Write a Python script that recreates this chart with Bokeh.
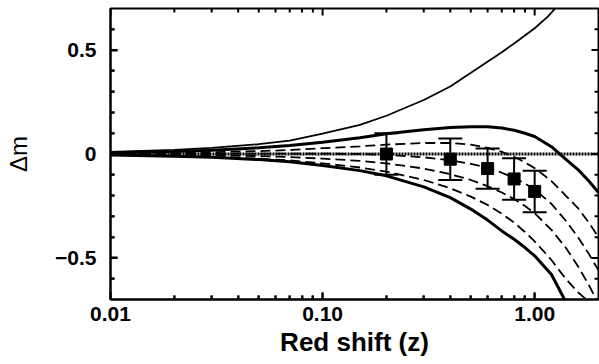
import math
from bokeh.plotting import figure
from bokeh.models import (FixedTicker, Whisker, TeeHead, ColumnDataSource, Range1d)
from bokeh.embed import file_html
from bokeh.resources import INLINE

# ---- data ----
z_a = [0.01, 0.02, 0.03, 0.05, 0.07, 0.1, 0.15, 0.2, 0.3, 0.4, 0.55, 0.7, 0.8, 1.0, 1.15, 1.25, 1.3]
dm_a = [0.01, 0.02, 0.029, 0.047, 0.064, 0.098, 0.14, 0.184, 0.26, 0.325, 0.418, 0.49, 0.532, 0.605, 0.66, 0.70, 0.72]

z_grid = [0.01, 0.02, 0.03, 0.05, 0.07, 0.1, 0.15, 0.2, 0.3, 0.4, 0.5, 0.6, 0.7, 0.8, 0.9, 1.0, 1.2, 1.4, 1.6, 1.8, 2.0]
dm_b = [0.006, 0.012, 0.018, 0.03, 0.041, 0.056, 0.078, 0.097, 0.117, 0.127, 0.131, 0.131, 0.125, 0.114, 0.1, 0.084, 0.035, -0.025, -0.075, -0.13, -0.185]
dm_d1 = [0.003, 0.006, 0.009, 0.014, 0.019, 0.028, 0.037, 0.045, 0.053, 0.053, 0.045, 0.03, 0.01, -0.013, -0.04, -0.068, -0.13, -0.2, -0.26, -0.33, -0.40]
dm_d2 = [0.0, 0.001, 0.001, 0.002, 0.002, 0.002, 0.0, -0.004, -0.016, -0.03, -0.047, -0.067, -0.09, -0.115, -0.142, -0.17, -0.24, -0.32, -0.40, -0.48, -0.56]
dm_d3 = [-0.002, -0.004, -0.006, -0.01, -0.015, -0.022, -0.033, -0.045, -0.07, -0.097, -0.125, -0.155, -0.185, -0.217, -0.25, -0.285, -0.365, -0.45, -0.54, -0.63, -0.72]
z_d4 = [0.01, 0.02, 0.03, 0.05, 0.07, 0.1, 0.15, 0.2, 0.3, 0.4, 0.5, 0.6, 0.7, 0.8, 0.9, 1.0, 1.2, 1.4, 1.6, 1.75, 1.8]
dm_d4 = [-0.004, -0.009, -0.013, -0.022, -0.031, -0.045, -0.065, -0.085, -0.125, -0.165, -0.205, -0.245, -0.287, -0.33, -0.375, -0.42, -0.51, -0.6, -0.665, -0.70, -0.72]
z_c = [0.01, 0.02, 0.03, 0.05, 0.07, 0.1, 0.15, 0.2, 0.3, 0.4, 0.5, 0.6, 0.7, 0.8, 0.9, 1.0, 1.2, 1.4]
dm_c = [-0.005, -0.011, -0.016, -0.027, -0.037, -0.055, -0.08, -0.105, -0.158, -0.21, -0.265, -0.318, -0.37, -0.41, -0.45, -0.49, -0.58, -0.71]

ref_z = [0.01, 2.0]
ref_dm = [0.0, 0.0]

obs_z = [0.2, 0.4, 0.6, 0.8, 1.0]
obs_dm = [0.0, -0.025, -0.07, -0.12, -0.18]
obs_err = [0.1, 0.1, 0.097, 0.1, 0.1]

x_ticks = [0.01, 0.1, 1.0]
x_tick_labels = ["0.01", "0.10", "1.00"]
x_minor = [0.02, 0.03, 0.04, 0.05, 0.06, 0.07, 0.08, 0.09,
           0.2, 0.3, 0.4, 0.5, 0.6, 0.7, 0.8, 0.9]
y_ticks = [-0.5, 0.0, 0.5]
y_tick_labels = ["\u22120.5", "0", "0.5"]
y_minor = [-0.6, -0.4, -0.3, -0.2, -0.1, 0.1, 0.2, 0.3, 0.4, 0.6]

X_LO, X_HI = 0.01, 2.0
Y_LO, Y_HI = -0.7, 0.7

W, H = 599, 364
B_LEFT, B_RIGHT, B_TOP, B_BOTTOM = 110, 1, 8, 65
FONT = "Liberation Sans"

p = figure(width=W, height=H, x_axis_type="log",
           x_range=Range1d(X_LO, X_HI), y_range=Range1d(Y_LO, Y_HI),
           output_backend="svg", toolbar_location=None,
           min_border_left=B_LEFT, min_border_right=B_RIGHT,
           min_border_top=B_TOP, min_border_bottom=B_BOTTOM)
p.grid.visible = False
p.background_fill_color = "white"
p.border_fill_color = "white"
p.outline_line_color = "black"
p.outline_line_width = 2

xa = p.xaxis[0]
xa.ticker = FixedTicker(ticks=x_ticks, minor_ticks=x_minor)
xa.major_label_overrides = {v: s for v, s in zip(x_ticks, x_tick_labels)}
xa.major_label_text_font = FONT
xa.major_label_text_font_style = "bold"
xa.major_label_text_font_size = "21px"
xa.major_label_text_color = "black"
xa.major_label_standoff = 7
xa.axis_label = "Red shift (z)"
xa.axis_label_text_font = FONT
xa.axis_label_text_font_style = "bold"
xa.axis_label_text_font_size = "26px"
xa.axis_label_text_color = "black"
xa.axis_label_standoff = 3

ya = p.yaxis[0]
ya.ticker = FixedTicker(ticks=y_ticks, minor_ticks=y_minor)
ya.major_label_overrides = {v: s for v, s in zip(y_ticks, y_tick_labels)}
ya.major_label_text_font = FONT
ya.major_label_text_font_style = "bold"
ya.major_label_text_font_size = "21px"
ya.major_label_text_color = "black"
ya.major_label_standoff = 14
ya.axis_label = "\u0394m"
ya.axis_label_text_font = FONT
ya.axis_label_text_font_style = "normal"
ya.axis_label_text_font_size = "24px"
ya.axis_label_text_color = "black"
ya.axis_label_standoff = 20

for ax in (xa, ya):
    ax.axis_line_color = "black"
    ax.axis_line_width = 2
    ax.major_tick_in = 7
    ax.major_tick_out = 0
    ax.minor_tick_in = 4
    ax.minor_tick_out = 0
    ax.major_tick_line_width = 2
    ax.minor_tick_line_width = 2
    ax.major_tick_line_color = "black"
    ax.minor_tick_line_color = "black"

# inward tick marks on all four frame edges, drawn as short segments
frame_w = W - B_LEFT - B_RIGHT
frame_h = H - B_TOP - B_BOTTOM
dec_per_px = math.log10(X_HI / X_LO) / frame_w
y_per_px = (Y_HI - Y_LO) / frame_h


def xticks(vals, length):
    dy = length * y_per_px
    n = len(vals)
    p.segment(x0=vals + vals, y0=[Y_LO] * n + [Y_HI] * n,
              x1=vals + vals, y1=[Y_LO + dy] * n + [Y_HI - dy] * n,
              line_color="black", line_width=2)


def yticks(vals, length):
    f = 10 ** (length * dec_per_px)
    n = len(vals)
    p.segment(x0=[X_LO] * n + [X_HI] * n, y0=vals + vals,
              x1=[X_LO * f] * n + [X_HI / f] * n, y1=vals + vals,
              line_color="black", line_width=2)


xticks(x_ticks, 7)
xticks(x_minor, 4)
yticks(y_ticks, 7)
yticks(y_minor, 4)

# curves
p.line(z_a, dm_a, line_color="black", line_width=1.8)
p.line(z_grid, dm_b, line_color="black", line_width=3)
p.line(z_c, dm_c, line_color="black", line_width=3)
for dm in (dm_d1, dm_d2, dm_d3):
    p.line(z_grid, dm, line_color="black", line_width=1.8, line_dash="10 5")
p.line(z_d4, dm_d4, line_color="black", line_width=1.8, line_dash="10 5")
p.line(ref_z, ref_dm, line_color="black", line_width=3, line_dash="2 1")

# observations
lo = [m - e for m, e in zip(obs_dm, obs_err)]
hi = [m + e for m, e in zip(obs_dm, obs_err)]
src = ColumnDataSource(dict(z=obs_z, dm=obs_dm, lo=lo, hi=hi))
w = Whisker(source=src, base="z", lower="lo", upper="hi", dimension="height",
            line_color="black", line_width=2,
            upper_head=TeeHead(size=24, line_width=2, line_color="black"),
            lower_head=TeeHead(size=24, line_width=2, line_color="black"))
p.add_layout(w)
p.scatter("z", "dm", source=src, marker="square", size=12,
          fill_color="black", line_color="black")

open("out.html", "w").write(file_html(p, INLINE))
